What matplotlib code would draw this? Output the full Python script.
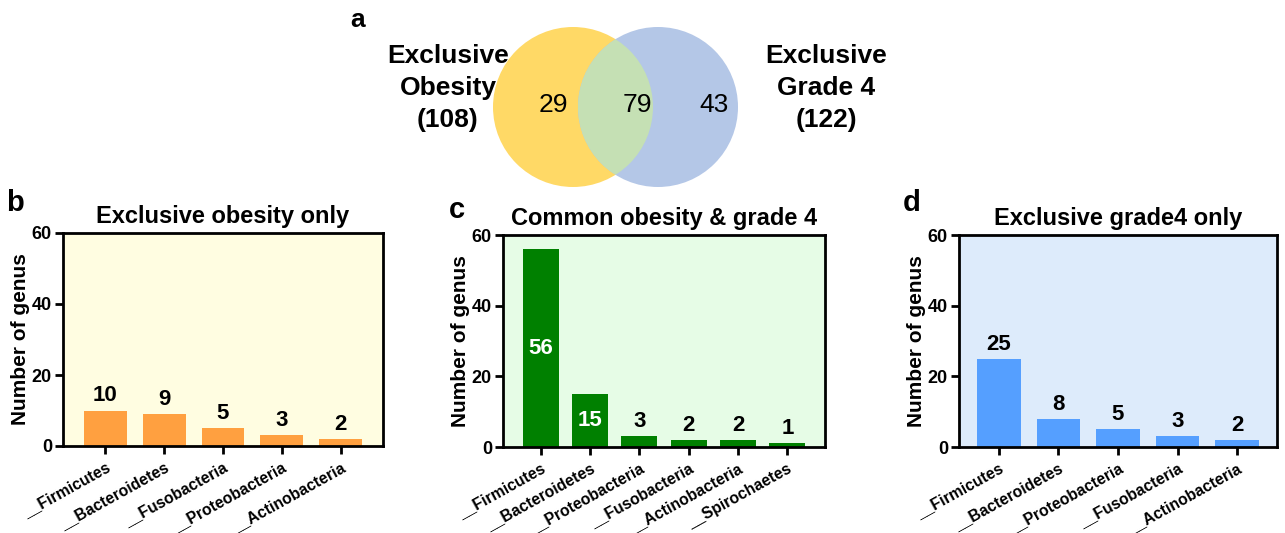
import matplotlib.pyplot as plt
from matplotlib.patches import Circle

plt.rcParams['font.family'] = ['Liberation Sans', 'DejaVu Sans']

# Venn counts: obesity only, shared, grade 4 only
venn_counts = [29, 79, 43]
obesity_total = 108
grade4_total = 122

# Panel b
b_phyla = ['__Firmicutes', '__Bacteroidetes', '__Fusobacteria', '__Proteobacteria', '__Actinobacteria']
b_counts = [10, 9, 5, 3, 2]

# Panel c
c_phyla = ['__Firmicutes', '__Bacteroidetes', '__Proteobacteria', '__Fusobacteria',
           '__Actinobacteria', '__Spirochaetes']
c_counts = [56, 15, 3, 2, 2, 1]

# Panel d
d_phyla = ['__Firmicutes', '__Bacteroidetes', '__Proteobacteria', '__Fusobacteria', '__Actinobacteria']
d_counts = [25, 8, 5, 3, 2]

W, H = 1285, 533
fig = plt.figure(figsize=(W / 100, H / 100), dpi=100)


def px_axes(left, top, right, bottom):
    return fig.add_axes([left / W, 1 - bottom / H, (right - left) / W, (bottom - top) / H])


# --- Venn diagram -------------------------------------------------------
vax = fig.add_axes([0, 0, 1, 1])
vax.set_xlim(0, W)
vax.set_ylim(H, 0)
vax.axis('off')
r = 80
c1 = (573, 107)
c2 = (658, 107)
vax.add_patch(Circle(c1, r, facecolor='#FFD966', edgecolor='none'))
right_c = Circle(c2, r, facecolor='#B4C7E7', edgecolor='none')
vax.add_patch(right_c)
lens = Circle(c1, r, facecolor='#C5E0B4', edgecolor='none')
vax.add_patch(lens)
lens.set_clip_path(right_c)

vax.text(553, 105, str(venn_counts[0]), ha='center', va='center', fontsize=19)
vax.text(637, 105, str(venn_counts[1]), ha='center', va='center', fontsize=19)
vax.text(714, 105, str(venn_counts[2]), ha='center', va='center', fontsize=19)
vax.text(448, 88, f'Exclusive\nObesity\n({obesity_total})', ha='center', va='center',
         fontsize=19, fontweight='bold', linespacing=1.4)
vax.text(826, 88, f'Exclusive\nGrade 4\n({grade4_total})', ha='center', va='center',
         fontsize=19, fontweight='bold', linespacing=1.4)
vax.text(358, 20, 'a', ha='center', va='center', fontsize=19, fontweight='bold')


# --- bar panels ---------------------------------------------------------
def bar_panel(ax, labels, counts, color, bg, title, pad, inside=()):
    x = list(range(len(counts)))
    ax.set_facecolor(bg)
    ax.bar(x, counts, width=0.73, color=color, zorder=2)
    ax.set_xlim(-pad, len(counts) - 1 + pad)
    ax.set_ylim(0, 60)
    ax.set_yticks([0, 20, 40, 60])
    ax.set_xticks(x)
    ax.set_xticklabels(labels, rotation=29, ha='right', rotation_mode='anchor',
                       fontsize=11.3, fontweight='bold')
    for lab in ax.get_yticklabels():
        lab.set_fontweight('bold')
        lab.set_fontsize(13)
    ax.tick_params(axis='both', width=2, length=6, direction='out', pad=2)
    ax.tick_params(axis='x', pad=4)
    for s in ax.spines.values():
        s.set_linewidth(2)
    ax.set_ylabel('Number of genus', fontsize=15, fontweight='bold', labelpad=1)
    ax.set_title(title, fontsize=17, fontweight='bold', pad=7)
    for i, v in enumerate(counts):
        if i in inside:
            ax.text(i, v / 2, str(v), ha='center', va='center', color='white',
                    fontsize=16, fontweight='bold', zorder=3)
        else:
            ax.annotate(str(v), (i, v), xytext=(0, 3), textcoords='offset points',
                        ha='center', va='bottom', fontsize=16, fontweight='bold')


ax_b = px_axes(63, 233, 383, 446)
bar_panel(ax_b, b_phyla, b_counts, '#FFA040', '#FFFDE1', 'Exclusive obesity only', 0.72)
ax_c = px_axes(503, 235, 825, 447)
bar_panel(ax_c, c_phyla, c_counts, '#008000', '#E6FCE6', 'Common obesity & grade 4', 0.76,
          inside=(0, 1))
ax_d = px_axes(959, 235, 1277, 447)
bar_panel(ax_d, d_phyla, d_counts, '#559FFF', '#DDEBFB', 'Exclusive grade4 only', 0.67)

fig.text(15 / W, 1 - 203 / H, 'b', ha='center', va='center', fontsize=21, fontweight='bold')
fig.text(457 / W, 1 - 210 / H, 'c', ha='center', va='center', fontsize=21, fontweight='bold')
fig.text(912 / W, 1 - 203 / H, 'd', ha='center', va='center', fontsize=21, fontweight='bold')

fig.savefig('out.png', dpi=100)
